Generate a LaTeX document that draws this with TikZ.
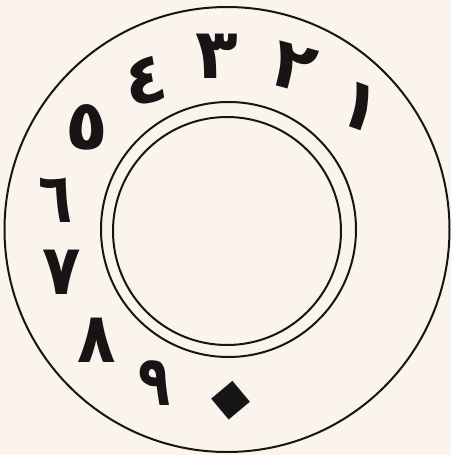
\documentclass[tikz,border=0pt]{standalone}
\usepackage{fontspec}
\newfontfamily\arabicfont[Script=Arabic]{DejaVu Sans}
\definecolor{paper}{RGB}{251,244,236}
\definecolor{ink}{RGB}{22,20,20}
\begin{document}
\begin{tikzpicture}[x=1pt,y=-1pt,
  ring/.style={draw=ink, line width=2pt},
  digit/.style={font=\arabicfont\bfseries\fontsize{70}{70}\selectfont, text=ink, inner sep=0pt, anchor=center}]
\fill[paper] (0,0) rectangle (451,455);
\useasboundingbox (0,0) rectangle (451,455);
\draw[ring] (227,229.5) circle (222.5pt);
\draw[ring] (228.5,229.5) circle (127.5pt);
\draw[ring] (227,231) circle (114pt);
\node[digit, rotate=-20] (d1) at (360,107) {١};
\node[digit, rotate=-15] (d2) at (294,68) {٢};
\node[digit] (d3) at (217,56) {٣};
\node[digit, rotate=10] (d4) at (146,81) {٤};
\node[digit] (d5) at (87,127) {٥};
\node[digit, xscale=0.8] (d6) at (56,200) {٦};
\node[digit, xscale=0.9] (d7) at (62,272) {٧};
\node[digit, xscale=0.9] (d8) at (97,340) {٨};
\node[digit, xscale=0.75] (d9) at (155,383) {٩};
\node[digit, font=\arabicfont\bfseries\fontsize{160}{160}\selectfont, rotate=40] (d0) at (241,413) {٠};
\end{tikzpicture}
\end{document}
